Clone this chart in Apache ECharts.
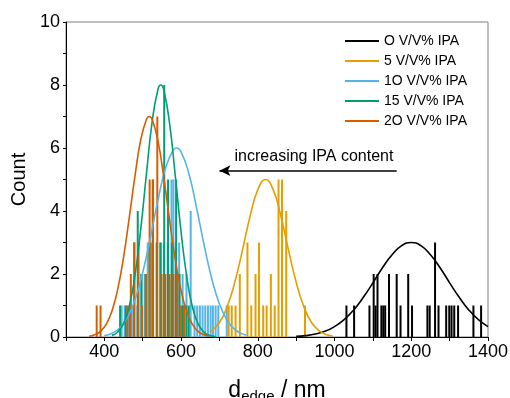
<!DOCTYPE html>
<html><head><meta charset="utf-8">
<script src="https://cdn.jsdelivr.net/npm/echarts@6/dist/echarts.min.js"></script>
<style>html,body{margin:0;padding:0;background:#fff}#c{width:510px;height:398px}</style>
</head><body><div id="c"></div>
<script>
const FONT = 'Liberation Sans, Arial, sans-serif';
const seriesNames = ['O V/V% IPA', '5 V/V% IPA', '1O V/V% IPA', '15 V/V% IPA', '2O V/V% IPA'];
const colors = ['#000000', '#E69F00', '#56B4E9', '#009E73', '#D55E00'];
const xTickLabels = [400, 600, 800, 1000, 1200, 1400];
const yTickLabels = [0, 2, 4, 6, 8, 10];

const hist0 = [[1031,1],[1051,1],[1091,1],[1102,2],[1107,1],[1112,2],[1122,1],[1127,1],[1132,1],[1142,2],[1162,2],[1172,1],[1192,2],[1202,1],[1242,1],[1248,1],[1262,3],[1271,1],[1291,1],[1299,1],[1305,1],[1312,1],[1322,1],[1362,1],[1382,1]];
const hist5 = [[724,1],[732,1],[742,1],[753,2],[773,3],[783,1],[794,2],[803,3],[814,1],[823,1],[834,2],[844,1],[854,5],[863,5],[874,4],[923,1]];
const hist10 = [[445,1],[453,1],[462,1],[475,1],[486,1],[496,2],[505,2],[513,3],[523,3],[536,3],[545,3],[555,3],[565,3],[575,5],[580,5],[586,3],[595,3],[604,2],[614,2],[625,4],[635,1],[642,1],[649,1],[656,1],[663,1],[670,1],[677,1],[683,1],[690,1],[697,1],[719,1]];
const hist15 = [[441,1],[456,1],[467,1],[478,3],[487,4],[497,2],[508,2],[518,3],[526,5],[537,3],[547,3],[556,8],[566,5],[576,3],[587,5],[596,2],[605,1],[614,1],[620,1]];
const hist20 = [[380,1],[390,1],[460,1],[469,2],[478,3],[489,3],[498,1],[508,2],[518,5],[527,5],[538,7],[549,2],[559,2],[570,2],[580,2],[590,2],[600,1],[608,1]];

const fit0 = [[900,0.02],[925,0.045],[950,0.094],[975,0.18],[1000,0.33],[1025,0.55],[1050,0.86],[1075,1.26],[1100,1.72],[1125,2.20],[1150,2.61],[1175,2.90],[1200,3.00],[1225,2.90],[1250,2.61],[1275,2.20],[1300,1.72],[1325,1.26],[1350,0.86],[1375,0.55],[1400,0.33]];
const fit5 = [[675,0.155],[700,0.46],[720,0.96],[740,1.74],[760,2.76],[780,3.84],[800,4.68],[820,5.00],[840,4.68],[860,3.84],[880,2.76],[900,1.74],[920,0.96],[940,0.46],[960,0.196],[980,0.073],[995,0.032]];
const fit10 = [[400,0.044],[420,0.119],[440,0.286],[460,0.616],[480,1.19],[500,2.05],[520,3.16],[540,4.36],[560,5.38],[580,5.95],[588,6.00],[600,5.88],[620,5.20],[640,4.12],[660,2.92],[680,1.85],[700,1.05],[720,0.53],[740,0.24],[760,0.099],[770,0.06]];
const fit15 = [[420,0.052],[435,0.159],[450,0.423],[465,0.978],[480,1.97],[495,3.44],[510,5.22],[525,6.88],[540,7.88],[547,8.00],[555,7.84],[570,6.78],[585,5.10],[600,3.33],[615,1.89],[630,0.93],[645,0.40],[660,0.148],[675,0.048],[690,0.013]];
const fit20 = [[360,0.026],[375,0.073],[390,0.18],[405,0.41],[420,0.83],[435,1.53],[450,2.53],[465,3.80],[480,5.13],[495,6.27],[510,6.92],[517,7.00],[525,6.90],[540,6.21],[555,5.05],[570,3.71],[585,2.46],[600,1.47],[615,0.80],[630,0.39],[645,0.17],[660,0.068],[675,0.025]];

const arrowFrom = [1162, 5.28];
const arrowTo = [700, 5.28];
const annotationText = 'increasing IPA content';

const hists = [hist0, hist5, hist10, hist15, hist20];
const fits = [fit0, fit5, fit10, fit15, fit20];

const series = [];
hists.forEach((h, i) => {
  series.push({
    name: seriesNames[i] + ' hist', type: 'bar', data: h,
    barWidth: 2, barGap: '-100%', itemStyle: { color: colors[i] },
    silent: true, animation: false
  });
});
fits.forEach((f, i) => {
  const s = {
    name: seriesNames[i], type: 'line', data: f, smooth: true,
    showSymbol: false, symbol: 'none',
    lineStyle: { color: colors[i], width: 1.6 }, itemStyle: { color: colors[i] },
    animation: false, z: 3
  };
  if (i === 0) {
    s.markLine = {
      silent: true, symbol: ['none', 'arrow'], symbolSize: [8, 11], animation: false,
      lineStyle: { color: '#000', width: 1.5, type: 'solid' }, label: { show: false },
      data: [[{ coord: arrowFrom }, { coord: arrowTo }]]
    };
  }
  series.push(s);
});

const el = document.getElementById('c');
const chart = echarts.init(el, null, { renderer: 'canvas' });
chart.setOption({
  animation: false,
  backgroundColor: '#fff',
  grid: { left: 66, right: 22, top: 22, bottom: 61, containLabel: false, outerBoundsMode: 'none',
    show: true, borderColor: '#808080', borderWidth: 1, backgroundColor: 'transparent' },
  legend: {
    data: seriesNames.map(n => ({ name: n, icon: 'rect' })),
    orient: 'vertical', left: 340, top: 29, itemWidth: 34, itemHeight: 2, itemGap: 6,
    selectedMode: false,
    textStyle: { fontSize: 14, fontFamily: FONT, color: '#000', lineHeight: 14 }
  },
  xAxis: {
    type: 'value', min: 300, max: 1400, interval: 100,
    axisLine: { show: true, lineStyle: { color: '#000', width: 1 } },
    axisTick: { show: true, inside: false, length: 4, lineStyle: { color: '#000' } },
    axisLabel: { fontSize: 18, fontFamily: FONT, color: '#000', margin: 6,
      formatter: v => xTickLabels.includes(v) ? String(v) : '' },
    splitLine: { show: false },
    name: '{a|d}{b|edge}{a| / nm}', nameLocation: 'middle', nameGap: 40,
    nameTextStyle: { fontFamily: FONT, color: '#000',
      rich: { a: { fontSize: 23, fontFamily: FONT, color: '#000' },
              b: { fontSize: 15, fontFamily: FONT, color: '#000', padding: [12, 0, 0, 0] } } }
  },
  yAxis: {
    type: 'value', min: 0, max: 10, interval: 1,
    axisLine: { show: true, lineStyle: { color: '#000', width: 1 } },
    axisTick: { show: true, inside: false, length: 3, lineStyle: { color: '#000' } },
    axisLabel: { fontSize: 18, fontFamily: FONT, color: '#000', margin: 6,
      formatter: v => yTickLabels.includes(v) ? String(v) : '' },
    splitLine: { show: false },
    name: 'Count', nameLocation: 'middle', nameGap: 27, nameRotate: 90,
    nameTextStyle: { fontSize: 20, fontFamily: FONT, color: '#000' }
  },
  graphic: [{
    type: 'text', x: 314, y: 157,
    style: { text: annotationText, fontSize: 16, fontFamily: FONT, fill: '#000', textAlign: 'center', textVerticalAlign: 'middle' }
  }],
  series: series
});
</script></body></html>
